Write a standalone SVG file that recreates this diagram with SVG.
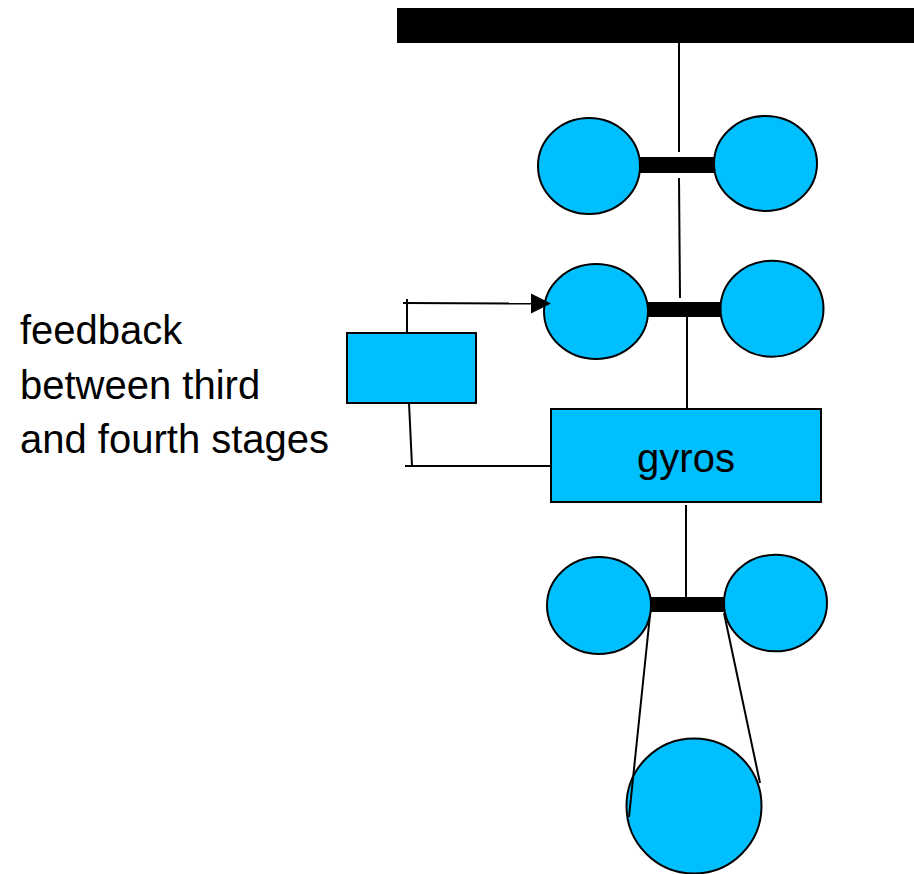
<svg xmlns="http://www.w3.org/2000/svg" width="914" height="874" viewBox="0 0 914 874">
<defs>
<style>
.b{fill:#00BFFF;stroke:#000;stroke-width:2}
.l{stroke:#000;stroke-width:2;fill:none}
.bar{fill:#000}
.t{font-family:"Liberation Sans",Arial,sans-serif;font-size:40px;fill:#000}
</style>
</defs>
<rect x="397" y="8" width="517" height="35" fill="#000"/>
<g id="stage1">
<rect class="bar" x="638" y="157" width="78" height="16"/>
<ellipse class="b" cx="589" cy="166" rx="51" ry="48"/>
<ellipse class="b" cx="765.5" cy="163.5" rx="51.5" ry="47.5"/>
</g>
<g id="stage2">
<rect class="bar" x="646" y="302" width="77" height="15"/>
<ellipse class="b" cx="596" cy="311.5" rx="52" ry="47.5"/>
<ellipse class="b" cx="772" cy="308.7" rx="51.5" ry="48"/>
</g>
<g id="feedback-box">
<rect class="b" x="347" y="333" width="129" height="70"/>
</g>
<g id="gyros">
<rect class="b" x="551" y="409" width="270" height="93"/>
<text class="t" x="686" y="472" text-anchor="middle">gyros</text>
</g>
<g id="stage4">
<rect class="bar" x="649" y="597" width="77" height="15"/>
<ellipse class="b" cx="599" cy="605.5" rx="52" ry="48.5"/>
<ellipse class="b" cx="775.5" cy="603" rx="51.5" ry="48.3"/>
</g>
<g id="wheel">
<circle class="b" cx="694" cy="806" r="67.5"/>
</g>
<g id="label">
<text class="t" x="20" y="344">feedback</text>
<text class="t" x="20" y="398.5">between third</text>
<text class="t" x="20" y="453">and fourth stages</text>
</g>
<g id="connectors">
<line class="l" x1="679" y1="43" x2="679" y2="152"/>
<line class="l" x1="679" y1="178" x2="680" y2="298"/>
<line class="l" x1="687" y1="317" x2="687" y2="410"/>
<line class="l" x1="686" y1="505" x2="686" y2="597"/>
<line class="l" x1="407" y1="299" x2="407" y2="333"/>
<line class="l" x1="403" y1="303" x2="531" y2="303.5"/>
<path d="M531,293.5 L551,303.5 L531,313.5 Z" fill="#000"/>
<line class="l" x1="409" y1="403" x2="412" y2="466"/>
<line class="l" x1="405" y1="466" x2="551" y2="466"/>
<line class="l" x1="650" y1="615" x2="629" y2="817"/>
<line class="l" x1="724" y1="613" x2="760" y2="783"/>
</g>
</svg>
